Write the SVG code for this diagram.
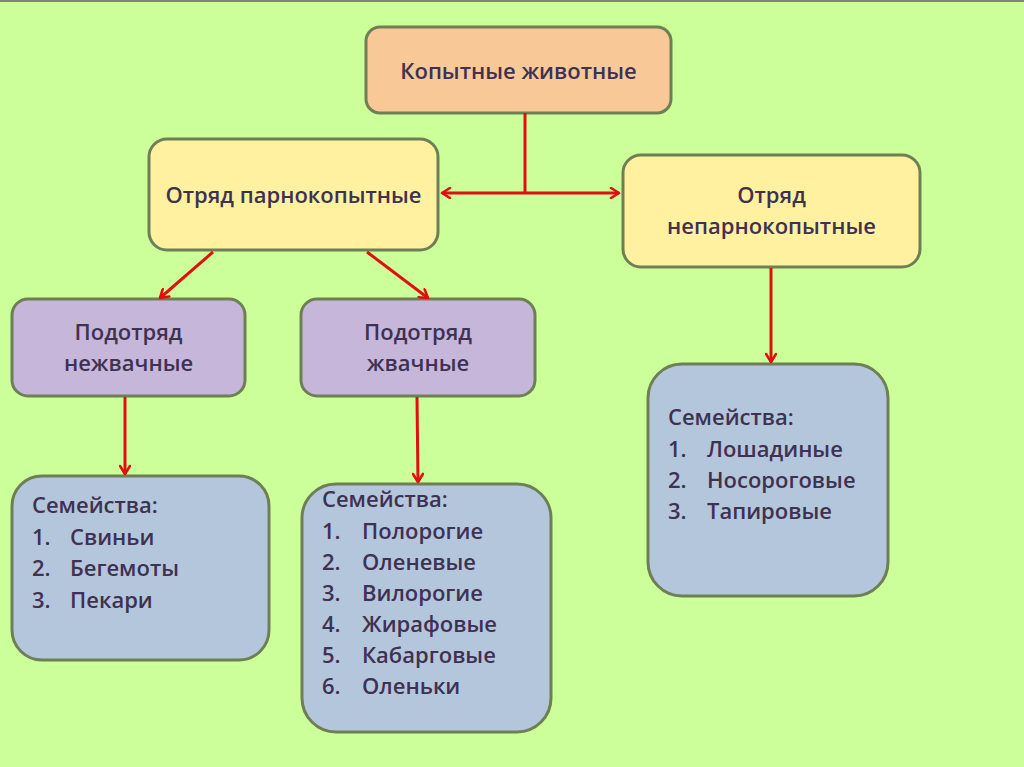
<svg xmlns="http://www.w3.org/2000/svg" width="1024" height="767" viewBox="0 0 1024 767">
<defs>
<marker id="arr" viewBox="0 0 12 12" refX="10" refY="6" markerWidth="12" markerHeight="12" markerUnits="userSpaceOnUse" orient="auto-start-reverse">
<path d="M2,1 L10,6 L2,11" fill="none" stroke="#E01010" stroke-width="2.6" stroke-linecap="round" stroke-linejoin="round"/>
</marker>
<style>
.box{stroke:#6E7F56;stroke-width:3}
.peach{fill:#F9C897}
.yellow{fill:#FFF1A0}
.purple{fill:#C6B6DA}
.blue{fill:#B4C6DC}
text{font-family:"Open Sans","Liberation Sans",sans-serif;font-weight:600;fill:#3F3151;font-size:22px}
.c{text-anchor:middle}
.conn{stroke:#E01010;stroke-width:3;fill:none}
</style>
</defs>
<rect width="1024" height="767" fill="#CCFF99"/>
<rect width="1024" height="2" fill="#7A8A70"/>

<g id="n-root">
<rect class="box peach" x="366" y="27" width="305" height="86" rx="14"/>
<text class="c" x="518.5" y="79">Копытные животные</text>
</g>
<g id="n-artio">
<rect class="box yellow" x="149" y="139" width="289" height="111" rx="18"/>
<text class="c" x="293.5" y="203">Отряд парнокопытные</text>
</g>
<g id="n-perisso">
<rect class="box yellow" x="623" y="155" width="297" height="112" rx="18"/>
<text class="c" x="771.5" y="203">Отряд</text>
<text class="c" x="771.5" y="234">непарнокопытные</text>
</g>
<g id="n-nonrum">
<rect class="box purple" x="12" y="299" width="233" height="97" rx="16"/>
<text class="c" x="128.5" y="340">Подотряд</text>
<text class="c" x="128.5" y="371">нежвачные</text>
</g>
<g id="n-rum">
<rect class="box purple" x="301" y="299" width="234" height="97" rx="16"/>
<text class="c" x="418" y="340">Подотряд</text>
<text class="c" x="418" y="371">жвачные</text>
</g>
<g id="n-fam1">
<rect class="box blue" x="12" y="476" width="257" height="184" rx="30"/>
<text x="32" y="513">Семейства:</text>
<text x="32" y="545">1.</text><text x="70" y="545">Свиньи</text>
<text x="32" y="576">2.</text><text x="70" y="576">Бегемоты</text>
<text x="32" y="608">3.</text><text x="70" y="608">Пекари</text>
</g>
<g id="n-fam2">
<rect class="box blue" x="302" y="484" width="249" height="248" rx="34"/>
<text x="322" y="507">Семейства:</text>
<text x="322" y="539">1.</text><text x="362" y="539">Полорогие</text>
<text x="322" y="570">2.</text><text x="362" y="570">Оленевые</text>
<text x="322" y="601">3.</text><text x="362" y="601">Вилорогие</text>
<text x="322" y="632">4.</text><text x="362" y="632">Жирафовые</text>
<text x="322" y="663">5.</text><text x="362" y="663">Кабарговые</text>
<text x="322" y="694">6.</text><text x="362" y="694">Оленьки</text>
</g>
<g id="n-fam3">
<rect class="box blue" x="648" y="364" width="240" height="232" rx="34"/>
<text x="668" y="425">Семейства:</text>
<text x="668" y="457">1.</text><text x="707" y="457">Лошадиные</text>
<text x="668" y="488">2.</text><text x="707" y="488">Носороговые</text>
<text x="668" y="519">3.</text><text x="707" y="519">Тапировые</text>
</g>

<g id="connectors">
<line class="conn" x1="525" y1="113" x2="525" y2="193"/>
<line class="conn" x1="525" y1="193" x2="442" y2="193" marker-end="url(#arr)"/>
<line class="conn" x1="525" y1="193" x2="619" y2="193" marker-end="url(#arr)"/>
<line class="conn" x1="213" y1="252" x2="160" y2="298" marker-end="url(#arr)"/>
<line class="conn" x1="367" y1="252" x2="428" y2="298" marker-end="url(#arr)"/>
<line class="conn" x1="125" y1="397" x2="125" y2="474" marker-end="url(#arr)"/>
<line class="conn" x1="417" y1="397" x2="418" y2="482" marker-end="url(#arr)"/>
<line class="conn" x1="771" y1="268" x2="771" y2="362" marker-end="url(#arr)"/>
</g>
</svg>
